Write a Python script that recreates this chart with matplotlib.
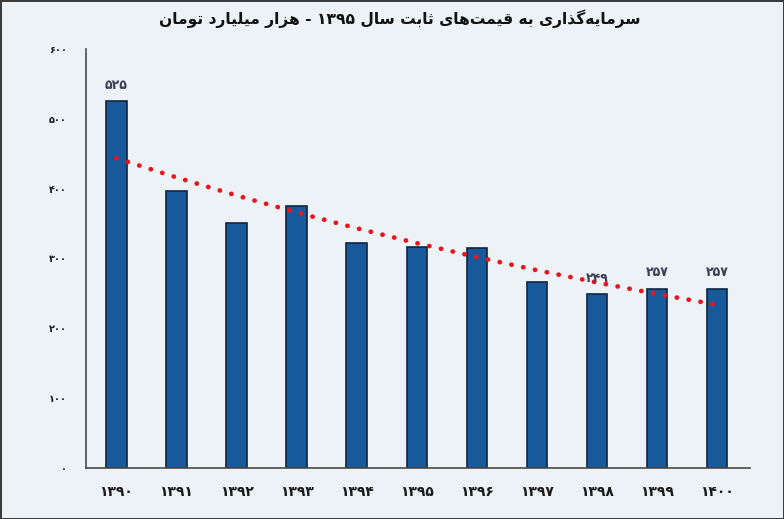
import numpy as np
import matplotlib.pyplot as plt

years = [1390, 1391, 1392, 1393, 1394, 1395, 1396, 1397, 1398, 1399, 1400]
values = [525, 397, 351, 375, 322, 316, 315, 266, 249, 257, 257]
labelled = [1390, 1398, 1399, 1400]
title = 'سرمایه\u200cگذاری به قیمت\u200cهای ثابت سال ۱۳۹۵ - هزار میلیارد تومان'

fa_digits = str.maketrans('0123456789', '۰۱۲۳۴۵۶۷۸۹')


def fa(n):
    return str(n).translate(fa_digits)


# matplotlib has no arabic shaping, so do the joining by hand
forms = {
    'ا': ('\uFE8D', '\uFE8E'),
    'د': ('\uFEA9', '\uFEAA'),
    'ذ': ('\uFEAB', '\uFEAC'),
    'ر': ('\uFEAD', '\uFEAE'),
    'ز': ('\uFEAF', '\uFEB0'),
    'و': ('\uFEED', '\uFEEE'),
    'ب': ('\uFE8F', '\uFE90', '\uFE91', '\uFE92'),
    'ت': ('\uFE95', '\uFE96', '\uFE97', '\uFE98'),
    'ث': ('\uFE99', '\uFE9A', '\uFE9B', '\uFE9C'),
    'س': ('\uFEB1', '\uFEB2', '\uFEB3', '\uFEB4'),
    'ق': ('\uFED5', '\uFED6', '\uFED7', '\uFED8'),
    'ل': ('\uFEDD', '\uFEDE', '\uFEDF', '\uFEE0'),
    'م': ('\uFEE1', '\uFEE2', '\uFEE3', '\uFEE4'),
    'ن': ('\uFEE5', '\uFEE6', '\uFEE7', '\uFEE8'),
    'ه': ('\uFEE9', '\uFEEA', '\uFEEB', '\uFEEC'),
    'ی': ('\uFBFC', '\uFBFD', '\uFBFE', '\uFBFF'),
    'گ': ('\uFB92', '\uFB93', '\uFB94', '\uFB95'),
}


def shape(s):
    out = []
    for i, c in enumerate(s):
        if c not in forms:
            if c != '\u200c':
                out.append(c)
            continue
        f = forms[c]
        prev = s[i - 1] if i > 0 else ''
        nxt = s[i + 1] if i + 1 < len(s) else ''
        pj = prev in forms and len(forms[prev]) == 4
        nj = nxt in forms and len(f) == 4
        if pj and nj:
            out.append(f[3])
        elif pj:
            out.append(f[1])
        elif nj:
            out.append(f[2])
        else:
            out.append(f[0])
    vis = ''.join(out)[::-1]
    # digit runs stay left to right
    res, run = '', ''
    for c in vis:
        if c in '۰۱۲۳۴۵۶۷۸۹':
            run += c
        else:
            res += run[::-1] + c
            run = ''
    return res + run[::-1]


bg = '#edf2f7'
fig = plt.figure(figsize=(7.84, 5.19), dpi=100, facecolor=bg,
                 edgecolor='#3c3c3c', linewidth=2)
ax = fig.add_axes([0.11, 0.098, 0.847, 0.808])
ax.set_facecolor(bg)

x = np.arange(len(years))
ax.bar(x, values, width=0.34, color='#175a9b', edgecolor='#0f2540', linewidth=1.2, zorder=2)

# exponential trend line
k, b = np.polyfit(x, np.log(values), 1)
ax.plot(x, np.exp(b + k * x), color='#e8141e', linewidth=3.4,
        linestyle=(0, (0.05, 2.5)), dash_capstyle='round', zorder=3)

for xi, yr, v in zip(x, years, values):
    if yr in labelled:
        ax.text(xi, v + 13, fa(v), ha='center', va='bottom', fontsize=9,
                color='#3a3d55', fontweight='bold')

ax.set_xlim(-0.5, 10.55)
ax.set_ylim(0, 600)
ax.set_yticks(range(0, 601, 100))
ax.set_yticklabels([fa(t) for t in range(0, 601, 100)], fontsize=7, fontweight='bold')
ax.set_xticks(x)
ax.set_xticklabels([fa(y) for y in years], fontsize=10, fontweight='bold')
ax.tick_params(length=0, colors='#1a1a1a')
ax.tick_params(axis='y', pad=14)
ax.tick_params(axis='x', pad=12)
for s in ['top', 'right']:
    ax.spines[s].set_visible(False)
for s in ['left', 'bottom']:
    ax.spines[s].set_color('#4a4a4a')
    ax.spines[s].set_linewidth(1.2)

fig.text(0.51, 0.963, shape(title), ha='center', va='center', fontsize=11.2,
         fontweight='bold', color='#111111')

fig.savefig('out.png', dpi=100, facecolor=bg, edgecolor='#3c3c3c')
